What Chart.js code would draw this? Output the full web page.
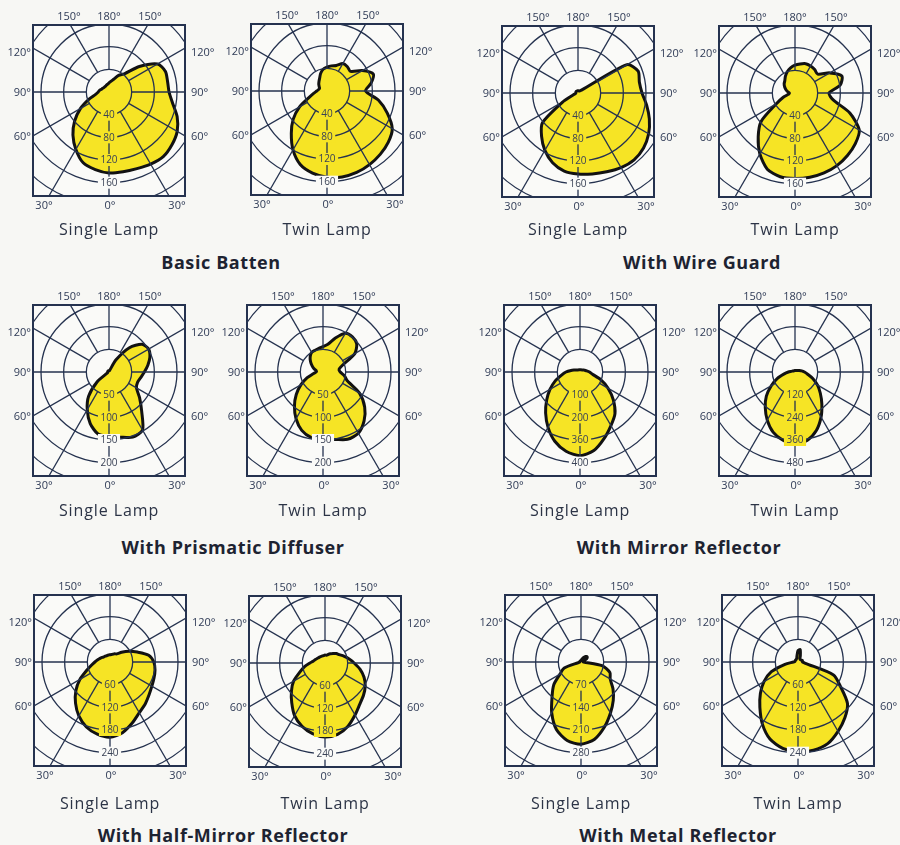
<!DOCTYPE html>
<html>
<head>
<meta charset="utf-8">
<title>Luminaire polar light distribution</title>
<script src="https://cdn.jsdelivr.net/npm/chart.js"></script>
<style>
html,body{margin:0;padding:0}
body{width:900px;height:845px;position:relative;overflow:hidden;background:#f7f7f4;font-family:"Open Sans",sans-serif;color:#2b3445}
.clip{position:absolute;width:152px;height:171px;overflow:hidden;background:#fafaf8}
.clip canvas{position:absolute;left:-60px;top:-69px;width:272px;height:272px}
.frame{position:absolute;width:154px;height:173px;border:2px solid #25324f;box-sizing:border-box;pointer-events:none}
.al{position:absolute;font-size:11px;line-height:12px;color:#2f3b56;white-space:nowrap}
.sub{position:absolute;font-size:16px;letter-spacing:0.9px;color:#2c3446;white-space:nowrap;transform:translate(-50%,-50%)}
.ttl{position:absolute;font-size:18px;font-weight:700;letter-spacing:0.6px;color:#1d2331;white-space:nowrap;transform:translate(-50%,-50%)}
</style>
</head>
<body>
<script>
// ---- angle categories: degrees measured from 0° (straight down), going round through 90° (left), 180° (up), back down the right side
const angleCategories = [0,10,20,30,40,50,60,70,80,90,100,110,120,130,140,150,160,170,180,190,200,210,220,230,240,250,260,270,280,290,300,310,320,330,340,350];

// ---- intensity values (cd) at each angle category
const basicSingle  = [143,139,133,117,99,79,58,38,24,19,17,14,13,12,12,12,13,14,16,19,24,34,42,70,99,106,105,106,114,128,139,145,149,147,144,143];
const basicTwin    = [152,147,138,120,98,78,56,34,24,18,15,14,16,19,22,26,33,39,42,45,48,56,56,54,72,87,79,68,92,113,133,141,146,150,153,154];
const wireSingle   = [143,140,131,117,100,82,30,8,4,4,4,4,4,4,4,4,4,4,4,4,4,4,5,8,100,113,110,113,123,134,144,151,154,152,148,145];
const wireTwin     = [151,150,143,124,101,78,38,22,11,10,13,17,21,25,28,34,40,45,49,52,55,55,54,52,71,88,81,60,68,103,131,139,144,148,150,151];
const prismSingle  = [142,139,121,96,70,35,4,3,3,3,3,3,3,3,3,3,3,3,3,3,3,31,70,95,101,96,87,78,71,67,70,88,112,148,153,146];
const prismTwin    = [149,147,137,119,98,77,56,37,22,15,15,21,28,36,44,50,51,53,56,62,80,99,101,97,81,47,36,38,48,57,93,120,141,156,158,151];
const mirrorSingle = [369,355,325,282,236,192,153,117,84,62,40,25,18,14,12,11,10,10,10,10,10,11,12,14,18,22,30,42,56,96,143,192,240,273,312,352];
const mirrorTwin   = [381,367,339,294,245,198,145,99,58,35,20,14,11,10,9,8,8,8,8,8,8,9,10,12,16,24,36,50,68,100,137,175,221,276,330,368];
const halfSingle   = [199,194,183,165,142,118,92,66,50,40,33,28,24,21,20,19,19,19,19,20,22,25,28,40,57,77,104,116,121,124,128,135,145,155,172,190];
const halfTwin     = [196,190,178,161,137,116,96,71,55,40,31,27,24,22,21,20,20,20,21,21,24,28,33,39,44,53,64,77,94,110,123,133,143,159,178,192];
const metalSingle  = [254,246,222,181,139,110,75,55,6,4,4,4,4,4,4,4,4,4,5,6,10,16,22,25,20,8,6,8,66,95,104,129,155,182,213,242];
const metalTwin    = [238,232,217,189,157,130,104,75,35,12,8,8,8,8,8,9,10,16,30,33,18,10,9,9,10,12,12,12,20,100,130,171,193,212,230,237];

// ---- ring (tick) labels printed on each diagram
const basicTicks       = ['40','80','120','160'];
const prismTicks       = ['50','100','150','200'];
const mirrorSingleTicks= ['100','200','360','400'];
const mirrorTwinTicks  = ['120','240','360','480'];
const halfTicks        = ['60','120','180','240'];
const metalSingleTicks = ['70','140','210','280'];
const metalTwinTicks   = ['60','120','180','240'];

// ---- text
const groupTitles = ['Basic Batten','With Wire Guard','With Prismatic Diffuser','With Mirror Reflector','With Half-Mirror Reflector','With Metal Reflector'];
const lampLabels  = ['Single Lamp','Twin Lamp'];
const topAngleLabels    = ['150°','180°','150°'];
const sideAngleLabels   = ['120°','90°','60°'];
const bottomAngleLabels = ['30°','0°','30°'];

// ---- layout (pixel positions of diagram centres, titles)
const diagrams = [
  [basicSingle, basicTicks], [basicTwin, basicTicks], [wireSingle, basicTicks], [wireTwin, basicTicks],
  [prismSingle, prismTicks], [prismTwin, prismTicks], [mirrorSingle, mirrorSingleTicks], [mirrorTwin, mirrorTwinTicks],
  [halfSingle, halfTicks], [halfTwin, halfTicks], [metalSingle, metalSingleTicks], [metalTwin, metalTwinTicks]
];
const centers = [[109,92],[327,91],[578,93],[795,93],[109,372],[323,372],[580,372],[795,372],[110,662],[325,663],[581,662],[798,662]];
const subY = [229,510,803];
const titlePos = [[221,262],[702,262],[233,547],[679,547],[223,835],[678,835]];

const YELLOW = '#f6e425', BG = '#fafaf8', NAVY = '#25324f', LABEL = '#3a4256';
const RING_PX = 136 / 6;

const downTicks = {
  id: 'downTicks',
  afterDraw(chart, args, opts) {
    const s = chart.scales.r, ctx = chart.ctx;
    const v0 = chart.data.datasets[0].data[0];
    ctx.save();
    ctx.font = '10px "Open Sans", sans-serif';
    ctx.textAlign = 'center';
    ctx.textBaseline = 'middle';
    opts.labels.forEach((t, i) => {
      const val = opts.step * (i + 1);
      const y = s.yCenter + s.getDistanceFromCenterForValue(val);
      const w = ctx.measureText(t).width + 5;
      ctx.fillStyle = val < v0 - opts.step * 0.1 ? YELLOW : BG;
      ctx.fillRect(s.xCenter - w / 2, y - 6, w, 12);
      ctx.fillStyle = LABEL;
      ctx.fillText(t, s.xCenter, y + 0.5);
    });
    ctx.restore();
  }
};

function addText(cls, text, x, y, transform) {
  const el = document.createElement('div');
  el.className = cls;
  el.textContent = text;
  el.style.left = x + 'px';
  el.style.top = y + 'px';
  if (transform) el.style.transform = transform;
  document.body.appendChild(el);
  return el;
}

diagrams.forEach(([data, ticks], i) => {
  const [cx, cy] = centers[i];
  const L = cx - 76, T = cy - 67;
  const clip = document.createElement('div');
  clip.className = 'clip';
  clip.style.left = L + 'px';
  clip.style.top = T + 'px';
  const cv = document.createElement('canvas');
  cv.width = 272; cv.height = 272;
  clip.appendChild(cv);
  document.body.appendChild(clip);
  const frame = document.createElement('div');
  frame.className = 'frame';
  frame.style.left = (L - 1) + 'px';
  frame.style.top = (T - 1) + 'px';
  document.body.appendChild(frame);

  const step = Number(ticks[0]);
  new Chart(cv, {
    type: 'radar',
    data: {
      labels: angleCategories.map(a => a + '°'),
      datasets: [{
        data: data,
        fill: 'origin',
        backgroundColor: YELLOW,
        borderColor: '#121212',
        borderWidth: 3,
        borderJoinStyle: 'round',
        pointRadius: 0,
        pointHoverRadius: 0,
        tension: 0.25
      }]
    },
    options: {
      responsive: false,
      animation: false,
      events: [],
      layout: { padding: 0, autoPadding: false },
      plugins: {
        legend: { display: false },
        tooltip: { enabled: false },
        downTicks: { labels: ticks, step: step }
      },
      scales: {
        r: {
          min: 0,
          max: step * 6,
          startAngle: 180,
          ticks: { display: false, stepSize: step },
          pointLabels: { display: false },
          grid: { circular: true, color: NAVY, lineWidth: 1.3, z: 1 },
          angleLines: {
            display: true,
            color: NAVY,
            lineWidth: c => (c.index % 3 === 0 ? 1.3 : 0),
            borderDash: [400, RING_PX],
            borderDashOffset: 400
          }
        }
      }
    },
    plugins: [downTicks]
  });

  // angle labels round the frame
  const topX = [L + 36, L + 76, L + 117];
  topAngleLabels.forEach((t, k) => addText('al', t, topX[k], T - 9, 'translate(-50%,-50%)'));
  const sideY = [T + 27, T + 67, T + 111];
  sideAngleLabels.forEach((t, k) => {
    addText('al', t, L - 2, sideY[k], 'translate(-100%,-50%)');
    addText('al', t, L + 158, sideY[k], 'translate(0,-50%)');
  });
  const botX = [L + 11, L + 77, L + 144];
  bottomAngleLabels.forEach((t, k) => addText('al', t, botX[k], T + 180, 'translate(-50%,-50%)'));

  addText('sub', lampLabels[i % 2], cx, subY[Math.floor(i / 4)]);
});

titlePos.forEach(([x, y], k) => addText('ttl', groupTitles[k], x, y));
</script>
</body>
</html>
